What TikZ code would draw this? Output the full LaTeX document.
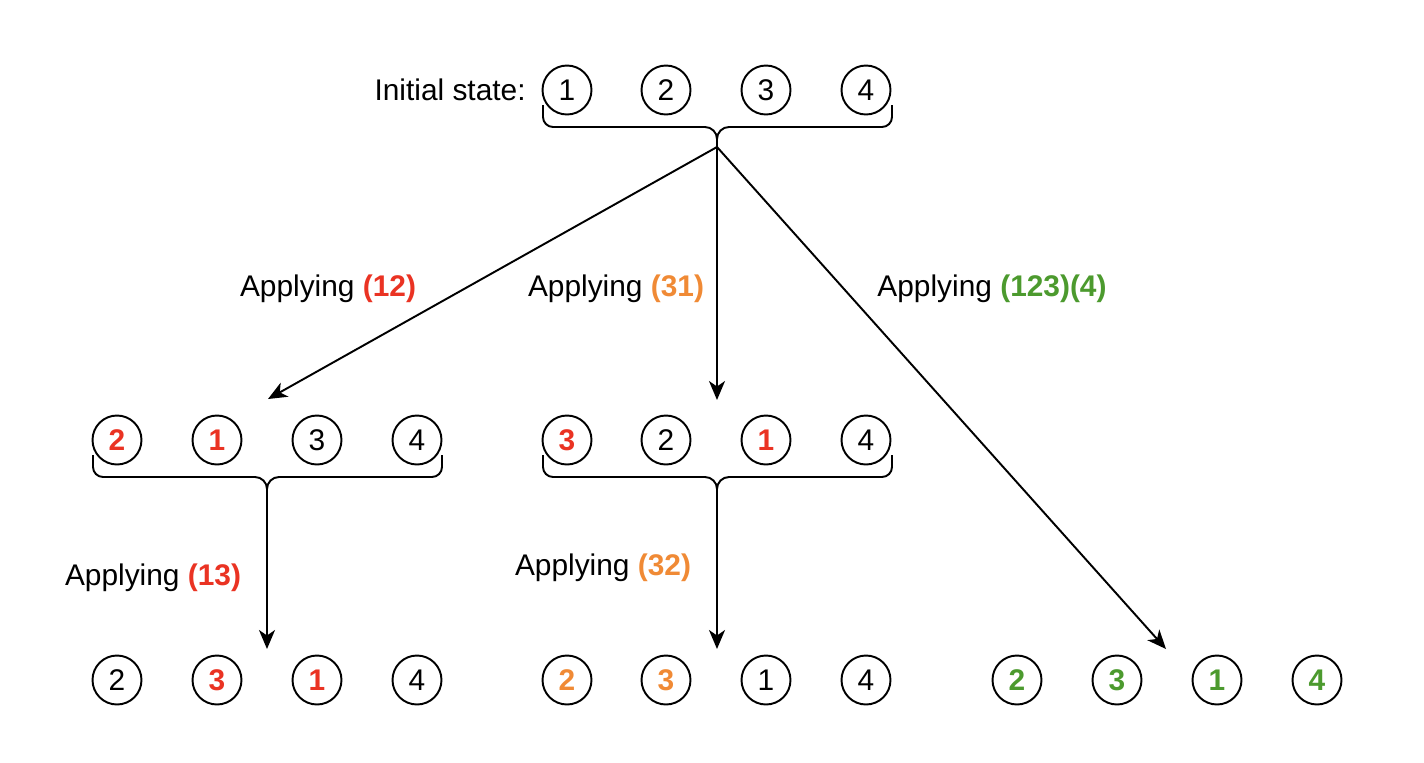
\documentclass[tikz,border=0pt]{standalone}
\usepackage{fontspec}
\setmainfont{Liberation Sans}
\usetikzlibrary{arrows.meta,positioning}
\definecolor{permred}{HTML}{EA3323}
\definecolor{permorange}{HTML}{F08A35}
\definecolor{permgreen}{HTML}{4C9A2E}
\begin{document}
\begin{tikzpicture}[x=0.02cm, y=-0.02cm]
			\tikzstyle{Elem}	= [circle, draw, line width=1.1pt, minimum size=0.98cm, inner sep=0pt, font=\fontsize{17}{20}\selectfont]
			\tikzstyle{Plain}	= []
			\tikzstyle{Red}		= [text=permred, font=\fontsize{17}{20}\selectfont\bfseries]
			\tikzstyle{Orange}	= [text=permorange, font=\fontsize{17}{20}\selectfont\bfseries]
			\tikzstyle{Green}	= [text=permgreen, font=\fontsize{17}{20}\selectfont\bfseries]
			\tikzstyle{Label}	= [font=\fontsize{17}{20}\selectfont, inner sep=0pt]
			\tikzstyle{Brace}	= [line width=1.1pt, line join=round]
			\tikzstyle{Move}	= [line width=1.1pt, -{Stealth[length=3.8mm, width=3.2mm, inset=1.1mm]}]
			
			\useasboundingbox (0,0) rectangle (1424,762);
			
			% the rows of states
			\foreach \i/\x/\d/\s in {1/567/1/Plain, 2/666/2/Plain, 3/766/3/Plain, 4/866/4/Plain}
				\node (s\i) at (\x, 90) [Elem][\s] {\d};
			\foreach \i/\x/\d/\s in {1/117/2/Red, 2/217/1/Red, 3/317/3/Plain, 4/417/4/Plain}
				\node (a\i) at (\x, 440) [Elem][\s] {\d};
			\foreach \i/\x/\d/\s in {1/567/3/Red, 2/666/2/Plain, 3/766/1/Red, 4/866/4/Plain}
				\node (b\i) at (\x, 440) [Elem][\s] {\d};
			\foreach \i/\x/\d/\s in {1/117/2/Plain, 2/217/3/Red, 3/317/1/Red, 4/417/4/Plain}
				\node (c\i) at (\x, 680) [Elem][\s] {\d};
			\foreach \i/\x/\d/\s in {1/567/2/Orange, 2/666/3/Orange, 3/766/1/Plain, 4/866/4/Plain}
				\node (d\i) at (\x, 680) [Elem][\s] {\d};
			\foreach \i/\x/\d/\s in {1/1017/2/Green, 2/1117/3/Green, 3/1217/1/Green, 4/1317/4/Green}
				\node (e\i) at (\x, 680) [Elem][\s] {\d};
			
			% braces under the rows
			\foreach \n/\l/\c/\r/\y in {Top/543/717/892/105, Left/93/267/442/455, Mid/543/717/892/455} {
				\coordinate (tip\n) at (\c, \y+42);
				\draw [Brace] (\l, \y) -- (\l, \y+12) to[out=-90, in=180] (\l+10, \y+22) -- (\c-12, \y+22)
					to[out=0, in=90] (\c, \y+34) to[out=90, in=180] (\c+12, \y+22) -- (\r-10, \y+22)
					to[out=0, in=-90] (\r, \y+12) -- (\r, \y);
				\draw [Brace] (\c, \y+34) -- (tip\n);
			}
			
			\coordinate (inA) at (268, 399);
			\coordinate (inB) at (717, 400);
			\coordinate (inC) at (267, 649);
			\coordinate (inD) at (717, 649);
			\coordinate (inE) at (1166, 649);
			\draw [Move] (tipTop) -- (inA);
			\draw [Move] (tipTop) -- (inB);
			\draw [Move] (tipTop) -- (inE);
			\draw [Move] (tipLeft) -- (inC);
			\draw [Move] (tipMid) -- (inD);
			
			\node (init) at (526, 90) [Label, anchor=east] {Initial state:};
			\node (l12) at (328, 289) [Label] {Applying \textcolor{permred}{\bfseries (12)}};
			\node (l31) at (616, 289) [Label] {Applying \textcolor{permorange}{\bfseries (31)}};
			\node (l123) at (992, 289) [Label] {Applying \textcolor{permgreen}{\bfseries (123)(4)}};
			\node (l13) at (153, 578) [Label] {Applying \textcolor{permred}{\bfseries (13)}};
			\node (l32) at (603, 568) [Label] {Applying \textcolor{permorange}{\bfseries (32)}};
		\end{tikzpicture}
\end{document}
